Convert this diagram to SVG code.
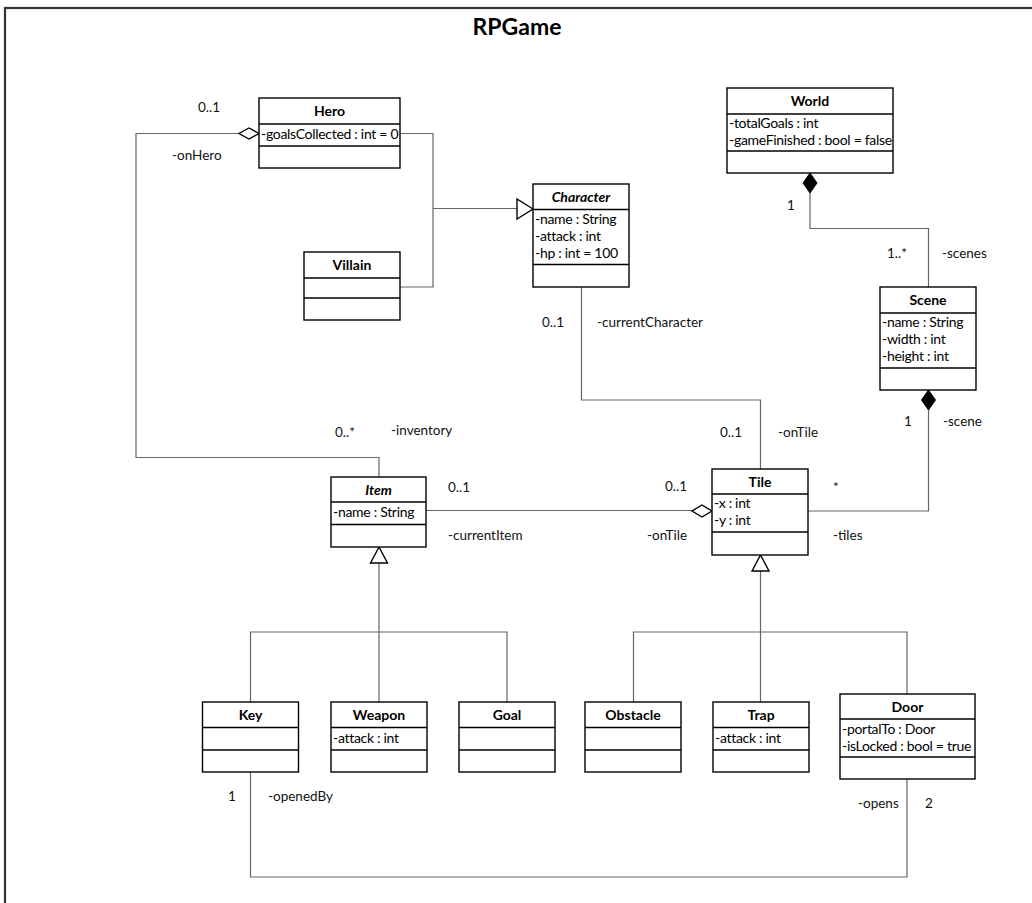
<svg xmlns="http://www.w3.org/2000/svg" width="1032" height="903" viewBox="0 0 1032 903">
<style>
.box{fill:#fff;stroke:#000;stroke-width:1.4}
.div{stroke:#000;stroke-width:1.4}
.nm{font-family:Lato,"Liberation Sans",sans-serif;font-size:14px;font-weight:bold;text-anchor:middle;fill:#000}
.it{font-style:italic}
.at{font-family:Lato,"Liberation Sans",sans-serif;font-size:14px;letter-spacing:-0.3px;fill:#000}
.lb{font-family:Lato,"Liberation Sans",sans-serif;font-size:13.5px;fill:#111}
.cn{fill:none;stroke:#666;stroke-width:1.2}
.hol{fill:#fff;stroke:#000;stroke-width:1.4}
.fil{fill:#000;stroke:#000;stroke-width:1}
</style>
<rect x="0" y="0" width="1032" height="903" fill="#fff"/>
<rect x="5" y="8" width="1040" height="920" fill="none" stroke="#333" stroke-width="2.2"/>
<text x="517" y="35" font-family="Lato,'Liberation Sans',sans-serif" font-size="23" font-weight="bold" text-anchor="middle">RPGame</text>

<g id="connectors">
<polyline class="cn" points="239,133.5 136,133.5 136,457.5 379,457.5 379,477"/>
<polyline class="cn" points="400,133.5 433,133.5 433,287 400,287"/>
<line class="cn" x1="433" y1="208.5" x2="517" y2="208.5"/>
<polyline class="cn" points="581.5,287 581.5,400 760.5,400 760.5,469"/>
<polyline class="cn" points="810,193 810,228.5 928.5,228.5 928.5,287"/>
<polyline class="cn" points="928.5,410 928.5,511 808,511"/>
<line class="cn" x1="426" y1="510.5" x2="692" y2="510.5"/>
<line class="cn" x1="379" y1="563" x2="379" y2="632"/>
<polyline class="cn" points="250.5,702 250.5,632 507,632 507,702"/>
<line class="cn" x1="379" y1="632" x2="379" y2="702"/>
<line class="cn" x1="760.5" y1="571" x2="760.5" y2="702"/>
<polyline class="cn" points="633.5,702 633.5,632 907,632 907,694"/>
<polyline class="cn" points="250.5,772 250.5,877 907,877 907,779"/>
<polygon class="hol" points="259,133.5 249,128 239,133.5 249,139"/>
<polygon class="hol" points="533,209 517,199 517,219"/>
<polygon class="fil" points="810,173 817,183 810,193 803,183"/>
<polygon class="fil" points="928.5,390 935.5,400 928.5,410 921.5,400"/>
<polygon class="hol" points="712,511 702,505 692,511 702,517"/>
<polygon class="hol" points="379,547 370.5,563 387.5,563"/>
<polygon class="hol" points="760.5,555 752,571 769,571"/>
<text class="lb" x="198" y="112">0..1</text>
<text class="lb" x="172" y="160">-onHero</text>
<text class="lb" x="335" y="437">0..*</text>
<text class="lb" x="391" y="435">-inventory</text>
<text class="lb" x="542" y="327">0..1</text>
<text class="lb" x="597" y="327">-currentCharacter</text>
<text class="lb" x="787" y="210">1</text>
<text class="lb" x="887" y="258">1..*</text>
<text class="lb" x="942" y="258">-scenes</text>
<text class="lb" x="904" y="426">1</text>
<text class="lb" x="943" y="426">-scene</text>
<text class="lb" x="720" y="437">0..1</text>
<text class="lb" x="778" y="437">-onTile</text>
<text class="lb" x="448" y="492">0..1</text>
<text class="lb" x="448" y="540">-currentItem</text>
<text class="lb" x="665" y="491">0..1</text>
<text class="lb" x="647" y="540">-onTile</text>
<text class="lb" x="833" y="492">*</text>
<text class="lb" x="833" y="540">-tiles</text>
<text class="lb" x="228" y="801">1</text>
<text class="lb" x="268" y="801">-openedBy</text>
<text class="lb" x="858" y="808">-opens</text>
<text class="lb" x="925" y="808">2</text>
</g>

<g id="Hero">
<rect class="box" x="259" y="98" width="141" height="70"/>
<line class="div" x1="259" y1="124" x2="400" y2="124"/>
<line class="div" x1="259" y1="146" x2="400" y2="146"/>
<text class="nm" x="329.5" y="116">Hero</text>
<text class="at" x="261" y="139">-goalsCollected : int = 0</text>
</g>

<g id="Villain">
<rect class="box" x="304" y="252" width="96" height="68"/>
<line class="div" x1="304" y1="278" x2="400" y2="278"/>
<line class="div" x1="304" y1="298" x2="400" y2="298"/>
<text class="nm" x="352" y="270">Villain</text>
</g>

<g id="Character">
<rect class="box" x="533" y="184" width="96" height="103"/>
<line class="div" x1="533" y1="209.5" x2="629" y2="209.5"/>
<line class="div" x1="533" y1="264.5" x2="629" y2="264.5"/>
<text class="nm it" x="581" y="202">Character</text>
<text class="at" x="535" y="224">-name : String</text>
<text class="at" x="535" y="241">-attack : int</text>
<text class="at" x="535" y="258">-hp : int = 100</text>
</g>

<g id="World">
<rect class="box" x="727" y="88" width="166" height="85"/>
<line class="div" x1="727" y1="114" x2="893" y2="114"/>
<line class="div" x1="727" y1="151" x2="893" y2="151"/>
<text class="nm" x="810" y="106">World</text>
<text class="at" x="729" y="128">-totalGoals : int</text>
<text class="at" x="729" y="145">-gameFinished : bool = false</text>
</g>

<g id="Scene">
<rect class="box" x="880" y="287" width="96" height="103"/>
<line class="div" x1="880" y1="313" x2="976" y2="313"/>
<line class="div" x1="880" y1="368" x2="976" y2="368"/>
<text class="nm" x="928" y="305">Scene</text>
<text class="at" x="882" y="327">-name : String</text>
<text class="at" x="882" y="344">-width : int</text>
<text class="at" x="882" y="361">-height : int</text>
</g>

<g id="Item">
<rect class="box" x="331" y="477" width="95" height="70"/>
<line class="div" x1="331" y1="502" x2="426" y2="502"/>
<line class="div" x1="331" y1="524.5" x2="426" y2="524.5"/>
<text class="nm it" x="378.5" y="495">Item</text>
<text class="at" x="333" y="517">-name : String</text>
</g>

<g id="Tile">
<rect class="box" x="712" y="469" width="96" height="86"/>
<line class="div" x1="712" y1="494" x2="808" y2="494"/>
<line class="div" x1="712" y1="532" x2="808" y2="532"/>
<text class="nm" x="760" y="487">Tile</text>
<text class="at" x="714" y="508">-x : int</text>
<text class="at" x="714" y="525">-y : int</text>
</g>

<g id="Key">
<rect class="box" x="202.5" y="702" width="96" height="70"/>
<line class="div" x1="202.5" y1="727.5" x2="298.5" y2="727.5"/>
<line class="div" x1="202.5" y1="750" x2="298.5" y2="750"/>
<text class="nm" x="250.5" y="720">Key</text>
</g>

<g id="Weapon">
<rect class="box" x="331" y="702" width="96" height="70"/>
<line class="div" x1="331" y1="727.5" x2="427" y2="727.5"/>
<line class="div" x1="331" y1="750" x2="427" y2="750"/>
<text class="nm" x="379" y="720">Weapon</text>
<text class="at" x="333" y="743">-attack : int</text>
</g>

<g id="Goal">
<rect class="box" x="459" y="702" width="96" height="70"/>
<line class="div" x1="459" y1="727.5" x2="555" y2="727.5"/>
<line class="div" x1="459" y1="750" x2="555" y2="750"/>
<text class="nm" x="507" y="720">Goal</text>
</g>

<g id="Obstacle">
<rect class="box" x="585" y="702" width="96" height="70"/>
<line class="div" x1="585" y1="727.5" x2="681" y2="727.5"/>
<line class="div" x1="585" y1="750" x2="681" y2="750"/>
<text class="nm" x="633" y="720">Obstacle</text>
</g>

<g id="Trap">
<rect class="box" x="713" y="702" width="96" height="70"/>
<line class="div" x1="713" y1="727.5" x2="809" y2="727.5"/>
<line class="div" x1="713" y1="750" x2="809" y2="750"/>
<text class="nm" x="761" y="720">Trap</text>
<text class="at" x="715" y="743">-attack : int</text>
</g>

<g id="Door">
<rect class="box" x="840" y="694" width="135" height="85"/>
<line class="div" x1="840" y1="719" x2="975" y2="719"/>
<line class="div" x1="840" y1="757" x2="975" y2="757"/>
<text class="nm" x="907.5" y="712">Door</text>
<text class="at" x="842" y="734">-portalTo : Door</text>
<text class="at" x="842" y="751">-isLocked : bool = true</text>
</g>
</svg>
